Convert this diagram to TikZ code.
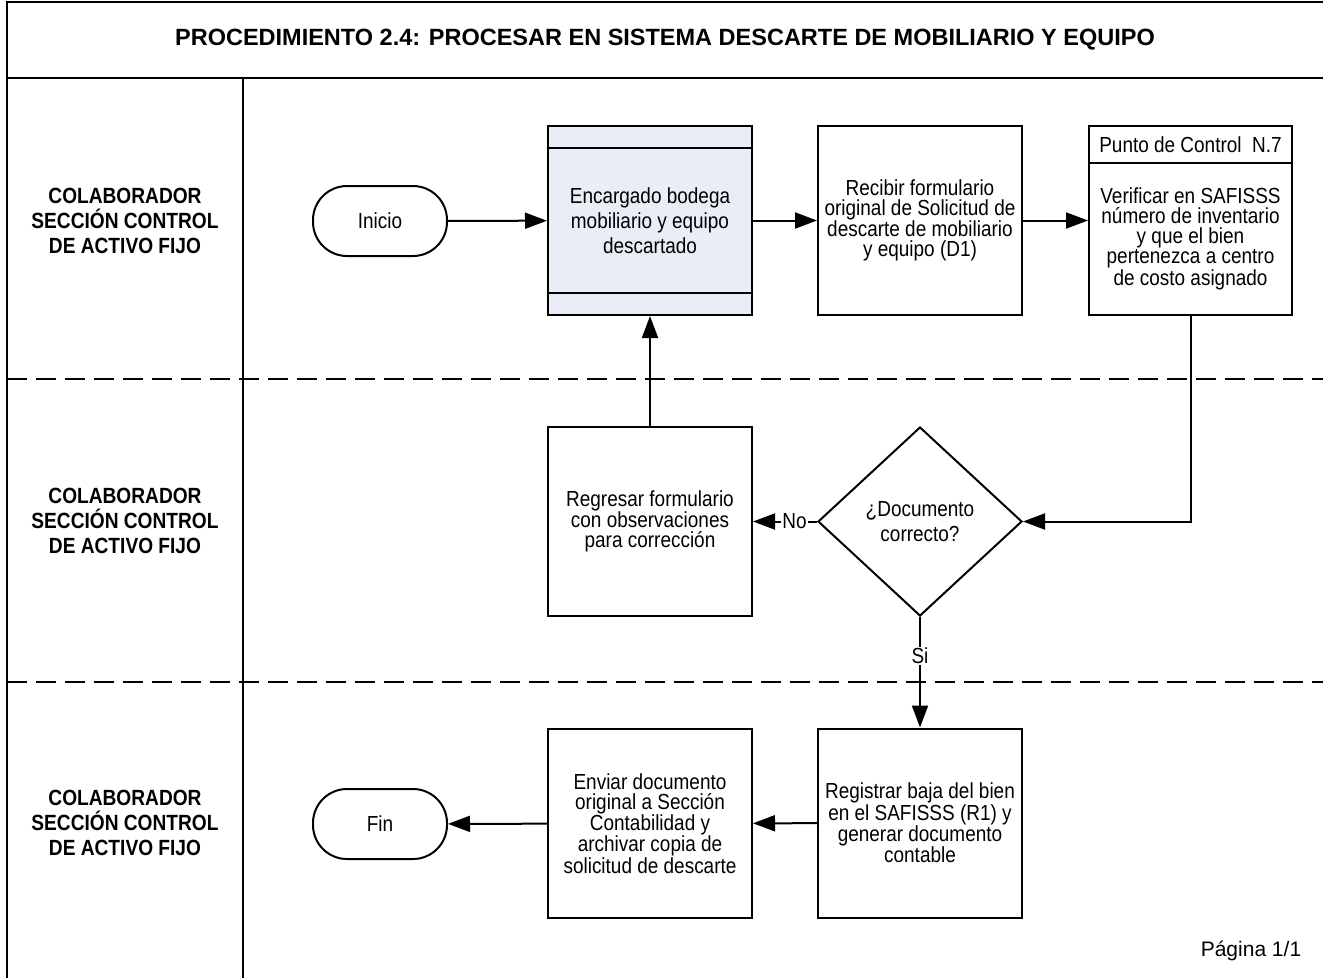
\documentclass[tikz,border=0pt]{standalone}
\usepackage{fontspec}
\setmainfont[FakeStretch=0.87]{Liberation Sans}
\newfontfamily\titulofont{Liberation Sans}
\usepackage{xcolor}
\usepackage{tikz}
\usetikzlibrary{shapes.geometric,arrows.meta}
\definecolor{bodega}{RGB}{233,237,245}

\begin{document}
\begin{tikzpicture}[
  x=1pt,y=-1pt,
  proceso/.style={rectangle,draw,line width=2pt,minimum width=204pt,minimum height=189pt,align=center,inner sep=2pt,font=\fontsize{21.8}{20}\selectfont},
  terminal/.style={rectangle,draw,rounded corners=34pt,line width=2pt,minimum width=134pt,minimum height=70pt,font=\fontsize{21.8}{20}\selectfont},
  decision/.style={diamond,draw,line width=2pt,minimum width=204pt,minimum height=189pt,inner sep=0pt,align=center,font=\fontsize{21.8}{25}\selectfont},
  carril/.style={align=center,font=\bfseries\fontsize{22}{25}\selectfont},
  marco/.style={line width=2pt},
  separador/.style={line width=2pt,dash pattern=on 19.5pt off 9.5pt},
  flecha/.style={-{Triangle[length=22pt,width=16pt]},line width=2pt},
  etiqueta/.style={fill=white,inner sep=1pt,font=\fontsize{21.8}{20}\selectfont}
]
\useasboundingbox (0,0) rectangle (1323,978);

\draw[marco] (1323,2) -- (7,2) -- (7,978);
\draw[marco] (7,78) -- (1323,78);
\draw[marco] (243,78) -- (243,978);
\draw[separador] (7,379) -- (1323,379);
\draw[separador] (7,682) -- (1323,682);

\node[font=\titulofont\bfseries\fontsize{23.5}{26}\selectfont] (titulo) at (665,40) {PROCEDIMIENTO 2.4: PROCESAR EN SISTEMA DESCARTE DE MOBILIARIO Y EQUIPO};

\node[carril] (carrilA) at (125,221) {COLABORADOR\\SECCIÓN CONTROL\\DE ACTIVO FIJO};
\node[carril] (carrilB) at (125,521) {COLABORADOR\\SECCIÓN CONTROL\\DE ACTIVO FIJO};
\node[carril] (carrilC) at (125,823) {COLABORADOR\\SECCIÓN CONTROL\\DE ACTIVO FIJO};

\node[terminal] (inicio) at (380,221) {Inicio};
\node[proceso,fill=bodega,font=\fontsize{21.8}{25}\selectfont] (encargado) at (650,220.5) {Encargado bodega\\mobiliario y equipo\\descartado};
\draw[marco] ([yshift=-23pt]encargado.north west) -- ([yshift=-23pt]encargado.north east);
\draw[marco] ([yshift=23pt]encargado.south west) -- ([yshift=23pt]encargado.south east);
\node[proceso] (recibir) at (920,220.5) {Recibir formulario\\original de Solicitud de\\descarte de mobiliario\\y equipo (D1)};
\node[proceso,minimum width=203pt,minimum height=152pt] (verificar) at (1190.5,239) {Verificar en SAFISSS\\número de inventario\\y que el bien\\pertenezca a centro\\de costo asignado};
\node[proceso,minimum width=203pt,minimum height=37pt] (punto) at (1190.5,144.5) {Punto de Control\ \ N.7};

\node[decision] (documento) at (920,521.5) {¿Documento\\correcto?};
\node[proceso] (regresar) at (650,521.5) {Regresar formulario\\con observaciones\\para corrección};

\node[proceso] (registrar) at (920,823) {Registrar baja del bien\\en el SAFISSS (R1) y\\generar documento\\contable};
\node[proceso] (enviar) at (650,823.5) {Enviar documento\\original a Sección\\Contabilidad y\\archivar copia de\\solicitud de descarte};
\node[terminal] (fin) at (380,824) {Fin};

\node[font=\titulofont\fontsize{21}{22}\selectfont] (pagina) at (1251,951) {Página 1/1};

\draw[flecha] (inicio) -- (encargado);
\draw[flecha] (encargado) -- (recibir);
\draw[flecha] (recibir.east) -- (recibir.east -| verificar.west);
\draw[flecha] (verificar.south) |- (documento.east);
\draw[flecha] (documento.west) -- (regresar.east) node[etiqueta,pos=0.35] {No};
\draw[flecha] (regresar) -- (encargado);
\draw[flecha] (documento) -- (registrar) node[etiqueta,pos=0.35] {Si};
\draw[flecha] (registrar) -- (enviar);
\draw[flecha] (enviar) -- (fin);

\end{tikzpicture}
\end{document}
